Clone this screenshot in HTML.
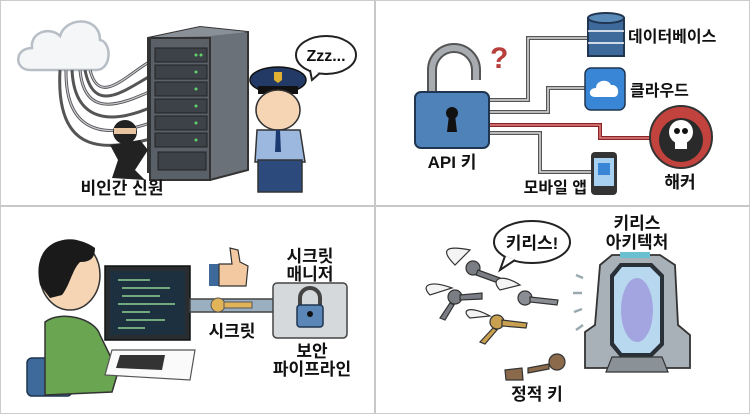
<!DOCTYPE html>
<html><head><meta charset="utf-8">
<style>
html,body{margin:0;padding:0;background:#fff;}
svg{display:block;}
text{font-family:"Liberation Sans","Noto Sans CJK KR",sans-serif;font-weight:bold;fill:#111;}
</style></head><body>
<svg width="750" height="414" viewBox="0 0 750 414" xmlns="http://www.w3.org/2000/svg">
<rect x="0.5" y="0.5" width="749" height="413" fill="#fff" stroke="#ccc"/>
<line x1="375" y1="0" x2="375" y2="414" stroke="#c8c8c8" stroke-width="2"/>
<line x1="0" y1="206" x2="750" y2="206" stroke="#c8c8c8" stroke-width="2"/>

<!-- TL: cloud -->
<path d="M30,70 C14,70 14,48 32,48 C30,32 50,26 60,36 C66,16 100,16 100,40 C112,42 112,70 96,70 Z" fill="#f4f6f8" stroke="#b8bec6" stroke-width="2.5"/>
<!-- cables -->
<g fill="none" stroke="#555" stroke-width="3">
<path d="M90,70 C100,110 130,70 158,57"/>
<path d="M85,70 C95,120 130,85 158,72"/>
<path d="M80,70 C85,125 130,100 158,88"/>
<path d="M72,70 C75,135 130,118 158,104"/>
<path d="M66,70 C65,145 120,135 158,120"/>
<path d="M60,70 C55,160 110,150 158,137"/>
</g>
<g fill="none" stroke="#c8ccd2" stroke-width="1.2">
<path d="M90,70 C100,110 130,70 158,57"/>
<path d="M80,70 C85,125 130,100 158,88"/>
<path d="M66,70 C65,145 120,135 158,120"/>
</g>
<!-- server -->
<polygon points="148,38 200,27 248,32 248,170 210,180 148,172" fill="#6b7178" stroke="#333" stroke-width="2"/>
<polygon points="148,38 200,27 248,32 210,36" fill="#8a9098"/>
<rect x="150" y="38" width="60" height="142" fill="#5a6068" stroke="#333" stroke-width="2"/>
<g fill="#3d4248" stroke="#222" stroke-width="1">
<rect x="155" y="48" width="52" height="14"/><rect x="155" y="65" width="52" height="14"/>
<rect x="155" y="82" width="52" height="14"/><rect x="155" y="99" width="52" height="14"/>
<rect x="155" y="116" width="52" height="14"/><rect x="155" y="133" width="52" height="14"/>
<rect x="158" y="152" width="48" height="18"/>
</g>
<g fill="#5fd36a"><circle cx="196" cy="55" r="1.5"/><circle cx="201" cy="55" r="1.5"/><circle cx="196" cy="72" r="1.5"/><circle cx="196" cy="89" r="1.5"/><circle cx="196" cy="106" r="1.5"/><circle cx="196" cy="123" r="1.5"/><circle cx="196" cy="140" r="1.5"/></g>
<!-- ninja -->
<circle cx="125" cy="132" r="12" fill="#222"/>
<rect x="114" y="128" width="22" height="6" fill="#e8c4a0"/>
<path d="M110,145 L140,140 L148,150 L135,170 L145,180 L112,178 L118,160 Z" fill="#222"/>
<!-- police -->
<ellipse cx="278" cy="80" rx="28" ry="13" fill="#233a66" stroke="#111" stroke-width="1.5"/>
<rect x="258" y="86" width="40" height="8" fill="#111"/>
<path d="M274,72 L282,72 L282,80 L278,83 L274,80Z" fill="#e0b030"/>
<ellipse cx="278" cy="110" rx="22" ry="20" fill="#f6d5b5" stroke="#333" stroke-width="1.5"/>
<path d="M257,130 L300,130 L305,162 L255,162Z" fill="#9db8df" stroke="#333" stroke-width="1.5"/>
<path d="M276,130 L280,130 L281,152 L275,152Z" fill="#1d3a70"/>
<rect x="258" y="160" width="44" height="32" fill="#2d4a7c" stroke="#333" stroke-width="1.5"/>
<!-- bubble -->
<ellipse cx="326" cy="55" rx="30" ry="19" fill="#fff" stroke="#222" stroke-width="2"/>
<path d="M310,70 L312,80 L320,73" fill="#fff" stroke="#222" stroke-width="2"/>
<text x="326" y="61" font-size="16" text-anchor="middle">Zzz...</text>
<text x="122" y="194" font-size="17" text-anchor="middle">비인간 신원</text>

<!-- TR -->
<g fill="none" stroke-width="4">
<path d="M488,100 H528 V38 H590" stroke="#555"/>
<path d="M488,112 H548 V88 H590" stroke="#555"/>
<path d="M488,125 H600 V138 H650" stroke="#8b2525"/>
<path d="M488,133 H540 V172 H592" stroke="#555"/>
</g>
<g fill="none" stroke-width="1.5" stroke="#ddd">
<path d="M488,100 H528 V38 H590"/><path d="M488,112 H548 V88 H590"/><path d="M488,133 H540 V172 H592"/>
</g>
<path d="M488,125 H600 V138 H650" fill="none" stroke="#e08080" stroke-width="1.5"/>
<path d="M432,92 V70 A22,22 0 0 1 476,70 V80" fill="none" stroke="#555" stroke-width="10"/>
<path d="M432,92 V70 A22,22 0 0 1 476,70 V80" fill="none" stroke="#a8acb0" stroke-width="6"/>
<rect x="415" y="92" width="74" height="56" rx="6" fill="#4f82b8" stroke="#1f3550" stroke-width="2"/>
<circle cx="452" cy="113" r="6" fill="#111"/><path d="M449,115 L455,115 L457,132 L447,132Z" fill="#111"/>
<text x="490" y="68" font-size="30" fill="#b8403c" style="fill:#b8403c">?</text>
<!-- db -->
<rect x="588" y="18" width="36" height="38" fill="#3d6a9a" stroke="#1f3550" stroke-width="2"/>
<ellipse cx="606" cy="18" rx="18" ry="5" fill="#5a8ab8" stroke="#1f3550" stroke-width="2"/>
<line x1="588" y1="31" x2="624" y2="31" stroke="#fff" stroke-width="1.5"/><line x1="588" y1="43" x2="624" y2="43" stroke="#fff" stroke-width="1.5"/>
<text x="628" y="42" font-size="16">데이터베이스</text>
<rect x="585" y="68" width="40" height="42" rx="6" fill="#3a86d6" stroke="#1f3550" stroke-width="1.5"/>
<path d="M595,97 C588,97 588,88 596,88 C596,80 608,78 611,85 C620,84 620,97 614,97Z" fill="#fff"/>
<text x="630" y="96" font-size="16">클라우드</text>
<circle cx="681" cy="137" r="31" fill="#c2433d" stroke="#333" stroke-width="2"/>
<circle cx="681" cy="140" r="22" fill="#2a2a2a"/>
<circle cx="681" cy="132" r="12" fill="#fff"/><rect x="675" y="140" width="12" height="9" fill="#fff"/>
<circle cx="677" cy="131" r="3" fill="#111"/><circle cx="685" cy="131" r="3" fill="#111"/>
<text x="680" y="188" font-size="17" text-anchor="middle">해커</text>
<rect x="591" y="152" width="26" height="43" rx="4" fill="#333"/>
<rect x="594" y="158" width="20" height="28" fill="#a8d0f0"/>
<rect x="598" y="163" width="12" height="12" fill="#3a86d6"/>
<text x="452" y="168" font-size="17" text-anchor="middle">API 키</text>
<text x="587" y="193" font-size="16" text-anchor="end">모바일 앱</text>

<!-- BL -->
<rect x="27" y="358" width="45" height="38" rx="5" fill="#3d6a9a" stroke="#1f3550" stroke-width="1.5"/>
<path d="M45,322 C60,310 95,318 100,335 L118,372 L112,392 L45,395 Z" fill="#6aa552" stroke="#333" stroke-width="1.5"/>
<ellipse cx="70" cy="275" rx="30" ry="35" fill="#f6d5b5" stroke="#333" stroke-width="1.5"/>
<path d="M40,285 C30,240 70,230 95,248 C95,260 88,262 80,262 C72,270 70,285 62,295 L50,298Z" fill="#1a1a1a"/>
<rect x="108" y="120" width="0" height="0"/>
<rect x="105" y="266" width="85" height="74" fill="#2a2d30" stroke="#111" stroke-width="1.5"/>
<rect x="110" y="271" width="75" height="64" fill="#1d3040"/>
<g stroke="#8fd08f" stroke-width="1.5"><line x1="118" y1="280" x2="150" y2="280"/><line x1="122" y1="288" x2="170" y2="288"/><line x1="122" y1="296" x2="160" y2="296"/><line x1="118" y1="304" x2="175" y2="304"/><line x1="122" y1="312" x2="150" y2="312"/><line x1="126" y1="320" x2="165" y2="320"/><line x1="118" y1="328" x2="145" y2="328"/></g>
<polygon points="112,350 195,350 190,380 105,375" fill="#fafafa" stroke="#555" stroke-width="1.2"/>
<polygon points="120,355 165,355 162,370 116,368" fill="#333"/>
<rect x="190" y="299" width="85" height="13" fill="#9ab0c0" stroke="#444" stroke-width="1.5"/>
<circle cx="218" cy="305" r="7" fill="#e2b45a" stroke="#555"/><rect x="224" y="302" width="28" height="6" fill="#e2b45a" stroke="#555"/>
<rect x="209" y="264" width="10" height="22" fill="#3d6a9a"/>
<path d="M219,264 L232,264 L230,248 L238,250 L240,262 L248,266 L246,286 L219,286Z" fill="#f2c9a0" stroke="#333" stroke-width="1.2"/>
<rect x="273" y="283" width="74" height="55" rx="4" fill="#d6d9dc" stroke="#444" stroke-width="1.5"/>
<path d="M300,306 V298 A10,10 0 0 1 320,298 V306" fill="none" stroke="#444" stroke-width="4"/>
<rect x="297" y="305" width="26" height="22" rx="3" fill="#5a86b8" stroke="#1f3550" stroke-width="1.5"/>
<circle cx="310" cy="314" r="3" fill="#111"/>
<text x="310" y="262" font-size="17" text-anchor="middle">시크릿</text>
<text x="310" y="280" font-size="17" text-anchor="middle">매니저</text>
<text x="232" y="337" font-size="17" text-anchor="middle">시크릿</text>
<text x="312" y="357" font-size="17" text-anchor="middle">보안</text>
<text x="312" y="375" font-size="17" text-anchor="middle">파이프라인</text>

<!-- BR -->
<ellipse cx="532" cy="242" rx="38" ry="21" fill="#fff" stroke="#222" stroke-width="2"/>
<path d="M505,256 L500,270 L515,260" fill="#fff" stroke="#222" stroke-width="2"/>
<text x="532" y="249" font-size="17" text-anchor="middle">키리스!</text>
<text x="637" y="229" font-size="17" text-anchor="middle">키리스</text>
<text x="637" y="248" font-size="17" text-anchor="middle">아키텍처</text>
<!-- keys -->
<g stroke="#333" stroke-width="1.2">
<path d="M455,265 C440,250 445,245 470,250Z" fill="#f4f4f4"/>
<circle cx="473" cy="268" r="7" fill="#7a7e84"/><path d="M478,270 L500,278 L498,283 L476,275Z" fill="#7a7e84"/>
<path d="M430,295 C420,285 430,280 452,288Z" fill="#f4f4f4"/>
<circle cx="455" cy="297" r="7" fill="#7a7e84"/><path d="M460,295 L482,293 L482,299 L460,300Z M450,303 L440,318 L445,320 L454,305Z" fill="#7a7e84"/>
<path d="M500,290 C490,280 500,272 520,285Z" fill="#f4f4f4"/>
<circle cx="525" cy="298" r="7" fill="#8a8e94"/><path d="M530,297 L558,300 L557,305 L530,302Z" fill="#8a8e94"/>
<path d="M470,318 C460,310 470,305 490,316Z" fill="#f4f4f4"/>
<circle cx="497" cy="322" r="7" fill="#c8a050"/><path d="M502,320 L527,323 L526,328 L502,326Z M493,328 L480,342 L485,344 L497,330Z" fill="#c8a050"/>
<circle cx="557" cy="362" r="8" fill="#8a6a4a"/><path d="M549,364 L528,368 L528,373 L549,369Z M505,370 L522,368 L523,380 L506,380Z" fill="#8a6a4a"/>
</g>
<g stroke="#9aa8b0" stroke-width="2.5"><line x1="576" y1="275" x2="583" y2="278"/><line x1="573" y1="293" x2="582" y2="293"/><line x1="574" y1="312" x2="582" y2="309"/><line x1="576" y1="330" x2="583" y2="325"/></g>
<!-- portal -->
<path d="M600,265 L612,255 L660,255 L675,265 L678,325 L690,335 L690,368 L585,368 L585,332 L595,325Z" fill="#a8b0b8" stroke="#333" stroke-width="1.8"/>
<rect x="620" y="252" width="30" height="6" fill="#6ac0d0"/>
<path d="M610,275 L620,263 L652,263 L664,275 L664,345 L652,357 L620,357 L610,345Z" fill="#2a3038"/>
<path d="M614,277 L622,267 L650,267 L660,277 L660,343 L650,353 L622,353 L614,343Z" fill="#b8d8f0"/>
<ellipse cx="637" cy="310" rx="16" ry="32" fill="#9a90d8" opacity="0.7"/>
<polygon points="612,357 662,357 668,372 606,372" fill="#8a9298" stroke="#333" stroke-width="1.2"/>
<text x="537" y="400" font-size="17" text-anchor="middle">정적 키</text>
</svg>
</body></html>
